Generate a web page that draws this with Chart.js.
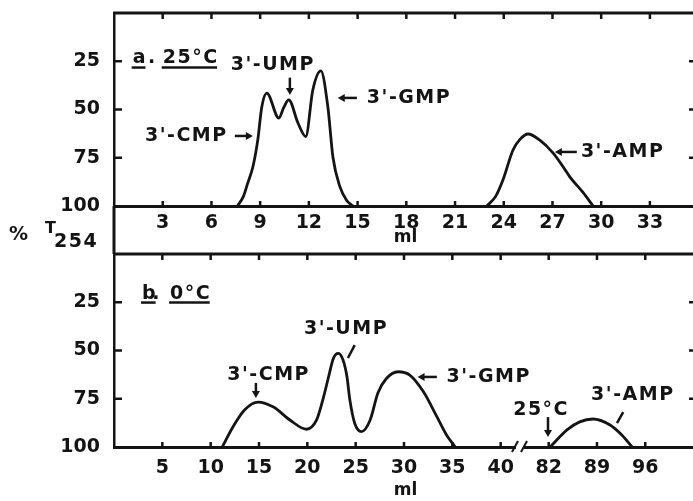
<!DOCTYPE html>
<html>
<head>
<meta charset="utf-8">
<script src="https://cdn.jsdelivr.net/npm/chart.js@4.4.0/dist/chart.umd.min.js"></script>
<style>
  html, body { margin: 0; padding: 0; background: #fff; overflow: hidden; }
  #wrap { position: relative; width: 693px; height: 501px; overflow: hidden; background: #fff; }
  canvas { position: absolute; left: 0; }
  #topChart { top: 0; }
  #botChart { top: 206px; }
</style>
</head>
<body>
<div id="wrap">
  <canvas id="topChart" width="700" height="256"></canvas>
  <canvas id="botChart" width="700" height="295"></canvas>
</div>
<script>
const ink = '#141414';
const family = "'DejaVu Sans', sans-serif";

// a. 25°C  -- ml eluted vs %T254
const mlTopPeaks = [7.6, 7.97, 8.24, 8.55, 8.85, 9.1, 9.41, 10.15, 10.45, 10.76, 11.33, 11.81, 12.24, 12.74, 13.17, 13.48, 13.91, 14.32, 14.71];
const pctTopPeaks = [100, 95, 88, 79.8, 66, 48.7, 41.5, 54.4, 49, 45, 57, 64, 40, 30, 48.7, 74.6, 90, 97, 100];
const mlTopAmp = [22.96, 23.5, 23.95, 24.57, 25.0, 25.5, 26.2, 27.03, 27.6, 28.08, 28.88, 29.5];
const pctTopAmp = [100, 95, 86.5, 71, 65.5, 62.7, 65.8, 72.5, 79, 85, 93, 100];

// b. 0°C (axis is broken between 40 and 82 ml)
const mlBotPeaks = [11.2, 12.3, 13.5, 14.9, 16.5, 18.2, 19.9, 20.96, 21.6, 22.2, 22.7, 23.2, 23.7, 24.1, 24.4, 24.9, 25.6, 26.5, 27.3, 28.2, 29.4, 30.6, 32.0, 33.4, 34.4, 35.3];
const pctBotPeaks = [100, 89.6, 80.8, 76.7, 79.3, 86, 90.8, 86, 75.6, 63.6, 54, 51.5, 55, 63.6, 75.6, 87.7, 92, 86, 72, 64.4, 61, 62.7, 71.3, 84.3, 93.8, 100];
const mlBotAmp = [82.2, 84.7, 86.5, 88.4, 90.9, 92.6, 94.1];
const pctBotAmp = [100, 91, 87, 85.5, 88.6, 93.8, 100];

// tick labels
const topTicks = [3, 6, 9, 12, 15, 18, 21, 24, 27, 30, 33];
const botTicksLow = [5, 10, 15, 20, 25, 30, 35, 40];
const botTicksHigh = [82, 89, 96];
const pctTicks = [25, 50, 75, 100];

// peak labels, in data units
const topNotes = [
  { text: 'a', x: 1.15, y: 23.6, underline: true },
  { text: '.', x: 2.1, y: 23.6 },
  { text: '25°C', x: 3.0, y: 23.6, underline: true },
  { text: "3'-UMP", x: 9.78, y: 27.2, align: 'center' },
  { text: "3'-GMP", x: 15.57, y: 44, align: 'left' },
  { text: "3'-CMP", x: 7.0, y: 63.7, align: 'right' },
  { text: "3'-AMP", x: 28.75, y: 72, align: 'left' }
];
const topArrows = [
  { x1: 10.83, y1: 33.5, x2: 10.83, y2: 42.5, head: true },
  { x1: 14.96, y1: 44, x2: 13.78, y2: 44, head: true },
  { x1: 7.44, y1: 63.7, x2: 8.55, y2: 63.7, head: true },
  { x1: 28.5, y1: 72, x2: 27.15, y2: 72, head: true }
];
const botNotes = [
  { text: 'b', x: 2.9, y: 20.5, underline: true },
  { text: '.', x: 3.95, y: 20.5 },
  { text: '0°C', x: 5.8, y: 20.5, underline: true },
  { text: "3'-CMP", x: 16.0, y: 62.7, align: 'center' },
  { text: "3'-UMP", x: 24.0, y: 38.9, align: 'center' },
  { text: "3'-GMP", x: 34.4, y: 63.7, align: 'left' },
  { text: '25°C', x: 80.9, y: 80.8, align: 'center', axis: 'xb' },
  { text: "3'-AMP", x: 94.2, y: 73, align: 'center', axis: 'xb' }
];
const botArrows = [
  { x1: 14.68, y1: 66.8, x2: 14.68, y2: 74.6, head: true },
  { x1: 24.9, y1: 47.2, x2: 24.2, y2: 53.9 },
  { x1: 33.4, y1: 63.7, x2: 31.4, y2: 63.7, head: true },
  { x1: 81.9, y1: 84.5, x2: 81.9, y2: 94.8, head: true, axis: 'xb' },
  { x1: 92.8, y1: 81.9, x2: 91.9, y2: 87.6, axis: 'xb' }
];

function seg(ctx, x1, y1, x2, y2) {
  ctx.beginPath();
  ctx.moveTo(x1, y1);
  ctx.lineTo(x2, y2);
  ctx.stroke();
}

function head(ctx, x1, y1, x2, y2) {
  const a = Math.atan2(y2 - y1, x2 - x1);
  const L = 7, W = 4;
  const bx = x2 - L * Math.cos(a), by = y2 - L * Math.sin(a);
  ctx.beginPath();
  ctx.moveTo(x2, y2);
  ctx.lineTo(bx + W * Math.sin(a), by - W * Math.cos(a));
  ctx.lineTo(bx - W * Math.sin(a), by + W * Math.cos(a));
  ctx.closePath();
  ctx.fill();
}

// frame, inward ticks, labels and arrows
const deco = {
  id: 'deco',
  afterDraw(chart, args, o) {
    const { ctx, chartArea: a, scales } = chart;
    const y = scales.y;
    ctx.save();
    ctx.strokeStyle = ink;
    ctx.fillStyle = ink;

    ctx.lineWidth = 3;
    ctx.beginPath();
    ctx.moveTo(a.left - 1, a.top);
    ctx.lineTo(a.right, a.top);
    ctx.lineTo(a.right, a.bottom);
    ctx.stroke();
    // the left axis runs on between the two panels
    if (o.extendUp) ctx.fillRect(a.left - 1.5, 0, 3, a.top);

    ctx.lineWidth = 2.5;
    o.xIds.forEach(id => {
      scales[id].ticks.forEach(t => {
        const px = scales[id].getPixelForValue(t.value);
        seg(ctx, px, a.bottom, px, a.bottom - 5);
        seg(ctx, px, a.top, px, a.top + 6);
      });
    });
    y.ticks.forEach(t => {
      if (t.value <= 0 || t.value >= 100) return;
      const py = y.getPixelForValue(t.value);
      seg(ctx, a.left, py, a.left + 8, py);
      seg(ctx, a.right, py, a.right - 8, py);
    });

    if (o.breakAt) {
      const bx = scales[o.breakAt].right;
      ctx.fillStyle = '#fff';
      ctx.fillRect(bx - 4, a.bottom - 3, 8, 6);
      ctx.fillStyle = ink;
      ctx.lineWidth = 2;
      seg(ctx, bx - 8, a.bottom + 5, bx - 2, a.bottom - 6);
      seg(ctx, bx + 1, a.bottom + 5, bx + 7, a.bottom - 6);
    }

    ctx.font = `bold 19px ${family}`;
    ctx.letterSpacing = '1.5px';
    ctx.textBaseline = 'middle';
    o.notes.forEach(n => {
      const sx = scales[n.axis || o.xIds[0]];
      const px = sx.getPixelForValue(n.x);
      const py = y.getPixelForValue(n.y);
      ctx.textAlign = n.align || 'left';
      ctx.fillText(n.text, px, py);
      if (n.underline) {
        const w = ctx.measureText(n.text).width - 1.5;
        ctx.lineWidth = 2.5;
        seg(ctx, px - 1, py + 9, px + w, py + 9);
      }
    });
    ctx.lineWidth = 2.5;
    o.arrows.forEach(r => {
      const sx = scales[r.axis || o.xIds[0]];
      const x1 = sx.getPixelForValue(r.x1), y1 = y.getPixelForValue(r.y1);
      const x2 = sx.getPixelForValue(r.x2), y2 = y.getPixelForValue(r.y2);
      if (r.head) {
        const a2 = Math.atan2(y2 - y1, x2 - x1);
        seg(ctx, x1, y1, x2 - 5 * Math.cos(a2), y2 - 5 * Math.sin(a2));
        head(ctx, x1, y1, x2, y2);
      } else {
        seg(ctx, x1, y1, x2, y2);
      }
    });

    // axis titles
    ctx.textAlign = 'center';
    ctx.font = `bold 17px ${family}`;
    ctx.letterSpacing = '0px';
    ctx.fillText('ml', (a.left + a.right) / 2, o.mlY);
    if (o.yTitle) {
      ctx.textAlign = 'left';
      ctx.font = `bold 19px ${family}`;
      ctx.fillText('%', a.left - 105, a.bottom + 29);
      ctx.font = `bold 16px ${family}`;
      ctx.fillText('T', a.left - 69, a.bottom + 23);
      ctx.font = `bold 19px ${family}`;
      ctx.letterSpacing = '1.5px';
      ctx.fillText('254', a.left - 60, a.bottom + 36);
    }
    ctx.restore();
  }
};

const tickFont = { family: family, size: 19, weight: 'bold' };

// keep the frame where it is: no extra room for edge labels
function noPad(s) {
  s.paddingLeft = 0;
  s.paddingRight = 0;
  s.paddingTop = 0;
  s.paddingBottom = 0;
}

function pctAxis() {
  return {
    type: 'linear',
    position: 'left',
    reverse: true,
    min: 0,
    max: 100,
    afterBuildTicks: s => { s.ticks = pctTicks.map(v => ({ value: v })); },
    afterFit: s => { s.width = 114; noPad(s); },
    grid: { display: false, drawTicks: false },
    border: { display: true, color: ink, width: 2.5 },
    ticks: { color: ink, font: tickFont, padding: 14 }
  };
}

function mlAxis(min, max, ticks, height, pad, extra) {
  return Object.assign({
    type: 'linear',
    position: 'bottom',
    min: min,
    max: max,
    afterBuildTicks: s => { s.ticks = ticks.map(v => ({ value: v })); },
    afterFit: s => { s.height = height; noPad(s); },
    grid: { display: false, drawTicks: false },
    border: { display: true, color: ink, width: 3 },
    ticks: { color: ink, font: tickFont, padding: pad, maxRotation: 0, autoSkip: false }
  }, extra || {});
}

function curve(ml, pct, xId) {
  return {
    data: ml.map((v, i) => ({ x: v, y: pct[i] })),
    xAxisID: xId,
    borderColor: ink,
    borderWidth: 2.8,
    pointRadius: 0,
    fill: false,
    cubicInterpolationMode: 'monotone'
  };
}

const common = {
  responsive: false,
  animation: false,
  events: [],
  plugins: { legend: { display: false }, tooltip: { enabled: false } }
};

new Chart(document.getElementById('topChart'), {
  type: 'line',
  data: {
    datasets: [
      curve(mlTopPeaks, pctTopPeaks, 'x'),
      curve(mlTopAmp, pctTopAmp, 'x')
    ]
  },
  options: Object.assign({}, common, {
    layout: { padding: { top: 13, right: 3, left: 0, bottom: 0 } },
    scales: {
      x: mlAxis(0, 35.9, topTicks, 50, 6),
      y: pctAxis()
    },
    plugins: Object.assign({}, common.plugins, {
      deco: { xIds: ['x'], notes: topNotes, arrows: topArrows, mlY: 238, yTitle: true }
    })
  }),
  plugins: [deco]
});

new Chart(document.getElementById('botChart'), {
  type: 'line',
  data: {
    datasets: [
      curve(mlBotPeaks, pctBotPeaks, 'xa'),
      curve(mlBotAmp, pctBotAmp, 'xb')
    ]
  },
  options: Object.assign({}, common, {
    layout: { padding: { top: 48, right: 3, left: 0, bottom: 0 } },
    scales: {
      xa: mlAxis(0, 42, botTicksLow, 54, 10, { stack: 'ml', stackWeight: 406 }),
      xb: mlAxis(77.84, 103.5, botTicksHigh, 54, 10, { stack: 'ml', stackWeight: 177 }),
      y: pctAxis()
    },
    plugins: Object.assign({}, common.plugins, {
      deco: { xIds: ['xa', 'xb'], notes: botNotes, arrows: botArrows, extendUp: true, breakAt: 'xa', mlY: 285 }
    })
  }),
  plugins: [deco]
});
</script>
</body>
</html>
